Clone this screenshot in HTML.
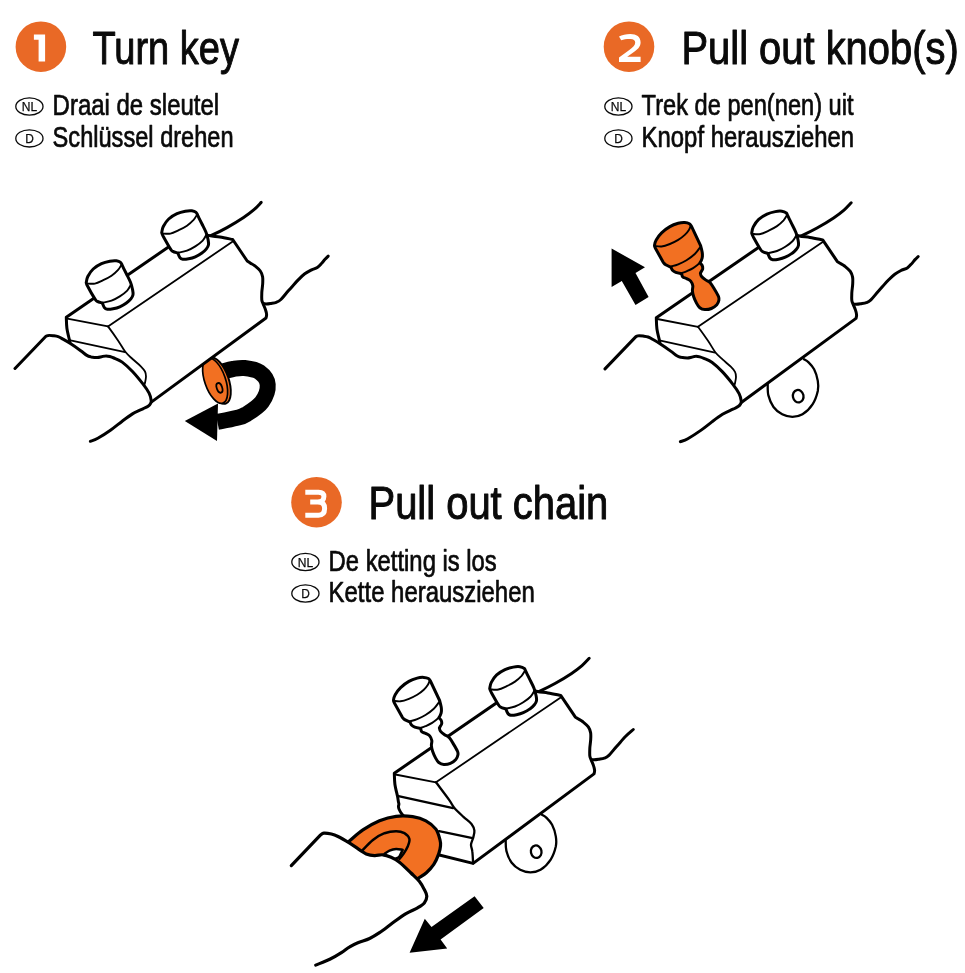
<!DOCTYPE html>
<html>
<head>
<meta charset="utf-8">
<style>
html,body{margin:0;padding:0;background:#fff;}
body{width:965px;height:973px;overflow:hidden;font-family:"Liberation Sans",sans-serif;}
svg{display:block;position:absolute;left:0;top:0;}
.tx{opacity:.999;}
.t{font-family:"Liberation Sans",sans-serif;fill:#0a0a0a;stroke:#0a0a0a;stroke-linejoin:round;}
.t1{font-size:46.5px;stroke-width:1;}
.t2{font-size:28.6px;stroke-width:.7;}
.t3{font-size:13px;stroke-width:.25;}
.ov{fill:none;stroke:#0a0a0a;stroke-width:1.3;}
.k{fill:none;stroke:#000;stroke-width:3;stroke-linecap:round;stroke-linejoin:round;}
.n{fill:none;stroke:#000;stroke-width:1.8;stroke-linecap:round;stroke-linejoin:round;}
.m{fill:none;stroke:#000;stroke-width:1.9;stroke-linecap:round;stroke-linejoin:round;}
.m2{fill:none;stroke:#000;stroke-width:2.3;stroke-linecap:round;stroke-linejoin:round;}
.k3{fill:none;stroke:#000;stroke-width:3.2;stroke-linecap:round;stroke-linejoin:round;}
.m3{fill:none;stroke:#000;stroke-width:2.5;stroke-linecap:round;stroke-linejoin:round;}
.w{fill:#fff;}
.o{fill:#f27022;}
.c{fill:#e96926;}
</style>
</head>
<body>
<svg width="965" height="973" viewBox="0 0 965 973">
<rect width="965" height="973" fill="#fff"/>
<g class="tx">
<circle class="c" cx="40.9" cy="46.7" r="25.3"/>
<g transform="translate(0 0)"><path d="M33.9 34.6H45.1V61.5H38.6V39.8H33.9Z" fill="#fff"/></g>
<text class="t t1" x="92.5" y="63.8" textLength="146.5" lengthAdjust="spacingAndGlyphs">Turn key</text>
<ellipse class="ov" cx="29.4" cy="106.5" rx="13.6" ry="8.6"/>
<text class="t t3" x="21.8" y="111.1" textLength="15.4" lengthAdjust="spacingAndGlyphs">NL</text>
<ellipse class="ov" cx="29.4" cy="138.4" rx="13.6" ry="8.6"/>
<text class="t t3" x="25.2" y="143.2" textLength="8.6" lengthAdjust="spacingAndGlyphs">D</text>
<text class="t t2" x="52.6" y="115.3" textLength="166.5" lengthAdjust="spacingAndGlyphs">Draai de sleutel</text>
<text class="t t2" x="52.6" y="147.3" textLength="181" lengthAdjust="spacingAndGlyphs">Schl&#252;ssel drehen</text>
<circle class="c" cx="629" cy="46.7" r="25.3"/>
<g transform="translate(589 0)"><path d="M30 36.4L32.2 40.3C35 39.2 38 38.9 41.5 39C44.5 39.1 46.2 40.2 46.2 42.6C46.2 45.5 44 47.5 40.3 50L30 57.5V61.9H51.6V56.8H38.2L43.5 53C48.5 49.5 51.6 46.8 51.6 42.4C51.6 36.6 47.5 33.9 41.3 33.9C37 33.9 33 34.8 30 36.4Z" fill="#fff"/></g>
<text class="t t1" x="681.5" y="63.8" textLength="277.2" lengthAdjust="spacingAndGlyphs">Pull out knob(s)</text>
<ellipse class="ov" cx="618.4" cy="106.5" rx="13.6" ry="8.6"/>
<text class="t t3" x="610.8" y="111.1" textLength="15.4" lengthAdjust="spacingAndGlyphs">NL</text>
<ellipse class="ov" cx="618.4" cy="138.4" rx="13.6" ry="8.6"/>
<text class="t t3" x="614.2" y="143.2" textLength="8.6" lengthAdjust="spacingAndGlyphs">D</text>
<text class="t t2" x="641.6" y="115.3" textLength="212" lengthAdjust="spacingAndGlyphs">Trek de pen(nen) uit</text>
<text class="t t2" x="641.6" y="147.3" textLength="212.5" lengthAdjust="spacingAndGlyphs">Knopf herausziehen</text>
<circle class="c" cx="316.5" cy="502.2" r="25.3"/>
<g transform="translate(276 455.5)"><g fill="none" stroke="#fff" stroke-width="5"><path d="M29.3 36.7H42.5C46.3 36.7 47.9 38.6 47.9 41C47.9 44.3 45.5 46.4 42.5 46.4H34.2"/><path d="M42.5 46.4C46.5 46.4 48.6 48.8 48.6 53C48.6 57.6 46.2 59.7 42.5 59.7H29.3"/></g></g>
<text class="t t1" x="368.5" y="519.2" textLength="239.8" lengthAdjust="spacingAndGlyphs">Pull out chain</text>
<ellipse class="ov" cx="305.4" cy="562" rx="13.6" ry="8.6"/>
<text class="t t3" x="297.8" y="566.6" textLength="15.4" lengthAdjust="spacingAndGlyphs">NL</text>
<ellipse class="ov" cx="305.4" cy="593.5" rx="13.6" ry="8.6"/>
<text class="t t3" x="301.2" y="598.3" textLength="8.6" lengthAdjust="spacingAndGlyphs">D</text>
<text class="t t2" x="328.6" y="570.8" textLength="168.2" lengthAdjust="spacingAndGlyphs">De ketting is los</text>
<text class="t t2" x="328.6" y="602.4" textLength="206.2" lengthAdjust="spacingAndGlyphs">Kette herausziehen</text>
</g>
<g transform="translate(0 0)">
<path class="k" d="M205 238C206.2 237.5 208.7 236.6 212.4 234.9C216.1 233.2 221.8 230.5 227 227.6C232.2 224.7 239.1 220.5 243.6 217.5C248.1 214.5 251.1 212.2 254 209.7C256.9 207.2 260 203.6 261.2 202.4"/>
<path class="k" d="M262 303.3C262.7 303.4 264.6 303.9 266 303.9C267.4 303.9 268.9 303.7 270.6 303.4C272.3 303.1 274.6 302.9 276.3 302.3C278 301.7 278.8 301.5 280.9 299.5C283 297.5 285.9 293.5 288.8 290.3C291.7 287.1 295.3 282.9 298 280.1C300.7 277.4 302.5 275.5 304.8 273.8C307.1 272.1 309.5 270.9 311.6 269.8C313.7 268.8 315.6 268.6 317.3 267.5C319 266.4 320.6 264.4 321.9 263C323.2 261.6 324.2 260.1 325.3 259C326.4 257.9 327.7 256.6 328.2 256.1"/>
<path d="M222.9 371.3C224.6 370.9 229.4 369.6 233 369C236.6 368.4 240.1 367.5 244.5 368C248.9 368.5 255.5 369.3 259.4 372.1C263.3 374.9 267.3 379.6 267.7 384.6C268.1 389.6 265.5 397 261.9 402C258.3 407 250.4 411.7 246.1 414.4C241.8 417.1 241 416.9 236.2 418.1C231.4 419.4 220.5 421.3 217.4 421.9" fill="none" stroke="#000" stroke-width="16"/>
<path d="M184.8 421L218 403.6L217 441Z" fill="#000"/>
<g transform="rotate(71 215.4 380.7)"><ellipse cx="216.2" cy="378.3" rx="24.2" ry="10.8" class="o" stroke="#000" stroke-width="1.9"/><ellipse cx="215.2" cy="380.9" rx="23.8" ry="10.4" class="o" stroke="#000" stroke-width="1.7"/><ellipse cx="223.5" cy="379.2" rx="5" ry="2.7" class="o" stroke="#000" stroke-width="1.8"/></g>
<path class="k w" d="M66.3 317.3L199 226C200.1 227.4 202.3 232.7 205.8 234.5C209.3 236.3 215.4 236.2 219.9 237C224.4 237.8 230.6 239.1 232.7 239.5L247.2 261C247.8 261.4 249.3 262.4 250.5 263.2C251.7 264 253 264.3 254.6 265.6C256.2 266.9 259 269.1 260.3 271C261.6 272.9 262.2 274.6 262.6 276.7C263 278.8 262.8 280.9 262.7 283.5C262.6 286.1 261.9 289.9 261.8 292.6C261.7 295.4 261.6 298.1 261.8 300C262 301.9 262.6 302.4 263.2 304C263.8 305.6 264.9 307.9 265.5 309.7C266.1 311.4 266.5 313.1 266.6 314.5C266.7 315.9 266.1 317.4 266 318L146.5 405.6L110.3 398.8C104.3 392.1 80.8 367.1 74.2 358.5C67.6 349.9 71.6 350.5 70.8 347.5C70 344.5 70.2 343.5 69.5 340.3C68.8 337.1 67.4 332.1 66.9 328.3C66.4 324.5 66.4 319.1 66.3 317.3Z"/>
<path class="n" d="M108 326.4L232.7 241.5"/>
<path class="n" d="M67.3 318.6L108 326.4"/>
<path class="n" d="M108 326.4C109.7 328.7 115.1 336.2 118 340.4C120.9 344.6 122.9 348.7 125.3 351.8C127.7 354.9 129.9 356.6 132.5 359C135.1 361.4 138.7 364.2 140.8 366.3C142.9 368.4 144.1 369.8 145 371.5C145.9 373.2 146 374.7 146 376.6C146 378.5 145.3 381.4 145 382.8C144.7 384.2 144.3 384.6 144.2 385"/>
<path class="n" d="M70.5 340.3L125.1 352.2"/>
<path class="k w" d="M86.2 282.7C86.5 281.7 86.6 278.8 87.8 276.5C89 274.2 90.9 271.1 93.2 269C95.5 266.9 98.7 265 101.5 263.7C104.3 262.4 107.3 261.7 109.8 261.2C112.3 260.7 114.6 260.6 116.4 260.8C118.2 261 119.6 261.6 120.6 262.4C121.6 263.1 121.9 264.8 122.2 265.3C122.9 266.8 125.1 271.2 126.5 274C127.9 276.8 129.5 279.7 130.5 282.3C131.5 284.9 132.2 287.7 132.6 289.8C133 291.9 133.3 293.3 133 294.8C132.7 296.3 132 297.5 130.9 298.9C129.8 300.3 128.2 301.7 126.4 303C124.6 304.3 122 305.8 119.8 306.8C117.6 307.8 115.2 308.4 113.1 308.8C111 309.2 108.8 309.5 107.3 309.3C105.8 309.1 105.2 308.7 104.4 307.6C103.6 306.6 102.7 303.8 102.3 303C101.5 302.7 98.6 302.1 97.4 301.4C96.2 300.7 96.5 301.4 94.9 298.9C93.3 296.4 89.2 289.2 87.8 286.5C86.3 283.8 86.5 283.3 86.2 282.7Z"/>
<path class="m" d="M86.6 283.5C88 283.5 92.1 284.2 94.9 283.6C97.7 283.1 100.4 281.5 103.2 280.2C106 278.9 109 277.4 111.5 275.7C114 274 116.4 271.8 118.1 269.9C119.8 268 121 265.5 121.6 264.6"/>
<path class="m" d="M102.3 302.8C103.8 302.4 108.6 301.7 111.5 300.6C114.4 299.5 117.2 298.1 119.8 296.4C122.4 294.7 125.3 292.6 127.2 290.6C129.1 288.6 130.5 285.3 131.2 284.2"/>
<path class="k w" d="M161.7 232.7C162 231.7 162.1 228.8 163.3 226.5C164.5 224.2 166.4 221.1 168.7 219C171 216.9 174.2 215 177 213.7C179.8 212.4 182.8 211.7 185.3 211.2C187.8 210.7 190.1 210.6 191.9 210.8C193.7 211 195.1 211.6 196.1 212.4C197.1 213.1 197.4 214.8 197.7 215.3C198.4 216.8 200.6 221.2 202 224C203.4 226.8 205 229.7 206 232.3C207 234.9 207.7 237.7 208.1 239.8C208.5 241.9 208.8 243.3 208.5 244.8C208.2 246.3 207.5 247.5 206.4 248.9C205.3 250.3 203.8 251.7 201.9 253C200.1 254.3 197.5 255.8 195.3 256.8C193.1 257.8 190.7 258.4 188.6 258.8C186.5 259.2 184.2 259.5 182.8 259.3C181.4 259.1 180.7 258.7 179.9 257.6C179.1 256.6 178.2 253.8 177.8 253C177 252.7 174.1 252.1 172.9 251.4C171.7 250.7 172 251.4 170.4 248.9C168.8 246.4 164.8 239.2 163.3 236.5C161.9 233.8 162 233.3 161.7 232.7Z"/>
<path class="m" d="M162.1 233.5C163.5 233.5 167.6 234.2 170.4 233.6C173.2 233.1 175.9 231.5 178.7 230.2C181.5 228.9 184.5 227.4 187 225.7C189.5 224 191.9 221.7 193.6 219.9C195.3 218 196.5 215.5 197.1 214.6"/>
<path class="m" d="M177.8 252.8C179.3 252.4 184.1 251.7 187 250.6C189.9 249.5 192.7 248.1 195.3 246.4C197.9 244.7 200.8 242.6 202.7 240.6C204.6 238.6 206 235.3 206.7 234.2"/>
<path class="k w" d="M15 368.5L45.2 337C45.4 336.8 46 336.3 46.5 336C47 335.7 47.4 335.4 48.5 335.4C49.6 335.3 51.5 335.5 53.1 335.7C54.7 335.9 56.5 336 58.1 336.6C59.8 337.2 61 338 63 339.1C65 340.2 67.5 341.6 70.4 343.5C73.4 345.4 78 348.7 80.7 350.7C83.5 352.7 85.2 354.4 86.9 355.4C88.6 356.4 89.4 356.5 91.1 356.9C92.8 357.2 95.6 357.5 97.3 357.5C99 357.5 100.1 357.1 101.5 356.8C102.9 356.5 104.2 355.9 105.6 355.9C107 355.8 108.4 356.1 109.8 356.5C111.2 356.9 111.8 357.1 113.9 358C116 358.9 119.1 359.9 122.2 362.1C125.3 364.4 129.1 367.9 132.5 371.5C135.9 375.1 140.1 380.3 142.9 383.9C145.7 387.5 147.7 390.4 149.1 393.2C150.5 396 151 398.8 151.2 400.5C151.4 402.2 151 402.7 150.5 403.6C150 404.6 149.4 405.3 148.1 406.2C146.8 407.1 145.5 407.5 142.9 408.8C140.3 410.1 135.9 411.8 132.5 413.9C129.1 416 125.8 418.5 122.2 421.2C118.6 423.9 114.9 427.1 110.8 430C106.7 432.9 101.2 436.4 97.8 438.3C94.4 440.2 91.6 440.8 90.4 441.3"/>
</g>
<g transform="translate(590 0.4)">
<path class="k" d="M205 238C206.2 237.5 208.7 236.6 212.4 234.9C216.1 233.2 221.8 230.5 227 227.6C232.2 224.7 239.1 220.5 243.6 217.5C248.1 214.5 251.1 212.2 254 209.7C256.9 207.2 260 203.6 261.2 202.4"/>
<path class="k" d="M262 303.3C262.7 303.4 264.6 303.9 266 303.9C267.4 303.9 268.9 303.7 270.6 303.4C272.3 303.1 274.6 302.9 276.3 302.3C278 301.7 278.8 301.5 280.9 299.5C283 297.5 285.9 293.5 288.8 290.3C291.7 287.1 295.3 282.9 298 280.1C300.7 277.4 302.5 275.5 304.8 273.8C307.1 272.1 309.5 270.9 311.6 269.8C313.7 268.8 315.6 268.6 317.3 267.5C319 266.4 320.6 264.4 321.9 263C323.2 261.6 324.2 260.1 325.3 259C326.4 257.9 327.7 256.6 328.2 256.1"/>
<path class="m2 w" d="M177.7 383.4C177.8 385.3 177.4 391.1 178.4 395C179.4 398.9 181.2 403.5 183.5 406.6C185.8 409.8 189.1 412.3 192.2 413.9C195.4 415.6 199 416.5 202.4 416.5C205.8 416.5 209.1 416 212.5 413.9C215.9 411.8 220.2 407.6 222.7 403.7C225.3 399.8 226.9 394.6 227.8 390.7C228.6 386.8 228.4 384.1 227.8 380.5C227.2 376.9 225.7 372 224.1 368.9C222.5 365.8 220 363.4 218.3 361.7C216.6 360 214.7 359.3 214 358.8"/>
<ellipse class="m2" cx="208.2" cy="395.8" rx="5.3" ry="6.3" transform="rotate(-12 208.2 395.8)"/>
<path class="k w" d="M66.3 317.3L199 226C200.1 227.4 202.3 232.7 205.8 234.5C209.3 236.3 215.4 236.2 219.9 237C224.4 237.8 230.6 239.1 232.7 239.5L247.2 261C247.8 261.4 249.3 262.4 250.5 263.2C251.7 264 253 264.3 254.6 265.6C256.2 266.9 259 269.1 260.3 271C261.6 272.9 262.2 274.6 262.6 276.7C263 278.8 262.8 280.9 262.7 283.5C262.6 286.1 261.9 289.9 261.8 292.6C261.7 295.4 261.6 298.1 261.8 300C262 301.9 262.6 302.4 263.2 304C263.8 305.6 264.9 307.9 265.5 309.7C266.1 311.4 266.5 313.1 266.6 314.5C266.7 315.9 266.1 317.4 266 318L146.5 405.6L110.3 398.8C104.3 392.1 80.8 367.1 74.2 358.5C67.6 349.9 71.6 350.5 70.8 347.5C70 344.5 70.2 343.5 69.5 340.3C68.8 337.1 67.4 332.1 66.9 328.3C66.4 324.5 66.4 319.1 66.3 317.3Z"/>
<path class="n" d="M108 326.4L232.7 241.5"/>
<path class="n" d="M67.3 318.6L108 326.4"/>
<path class="n" d="M108 326.4C109.7 328.7 115.1 336.2 118 340.4C120.9 344.6 122.9 348.7 125.3 351.8C127.7 354.9 129.9 356.6 132.5 359C135.1 361.4 138.7 364.2 140.8 366.3C142.9 368.4 144.1 369.8 145 371.5C145.9 373.2 146 374.7 146 376.6C146 378.5 145.3 381.4 145 382.8C144.7 384.2 144.3 384.6 144.2 385"/>
<path class="n" d="M70.5 340.3L125.1 352.2"/>
<path class="k o" d="M65.4 247.8C65.2 247.3 64.4 246.3 64.5 244.9C64.6 243.5 65 241.6 66.2 239.5C67.4 237.4 69.3 234.6 71.6 232.4C73.9 230.2 77.1 227.8 79.9 226.2C82.7 224.6 85.7 223.6 88.2 222.9C90.7 222.2 92.9 222.1 94.8 222.2C96.7 222.3 98.3 222.7 99.4 223.3C100.5 223.9 101.1 225.4 101.4 225.8L110.6 245.3C110.9 246.4 111.9 250.1 112.2 251.9C112.5 253.7 112.5 254.8 112.4 256.1C112.3 257.4 111.8 258.8 111.4 259.8C111 260.9 110.1 262 109.9 262.4C110.3 262.9 111.7 264.1 112.2 265.1C112.7 266.1 112.8 267.5 112.7 268.4C112.6 269.3 112 269.9 111.6 270.6C111.2 271.3 110.6 272.4 110.4 272.8C110.6 273.3 110.5 274.8 111.4 275.9C112.3 277 114.1 278.4 115.6 279.5C117.1 280.6 118.7 280.8 120.2 282.4C121.7 284.1 123.4 287.1 124.8 289.4C126.2 291.7 127.8 294.4 128.5 296.1C129.2 297.8 129.2 298.4 128.9 299.8C128.6 301.2 128 303 126.8 304.4C125.5 305.8 123.4 307.3 121.4 308.1C119.4 308.9 116.7 309.3 114.8 309.2C112.9 309.1 111.2 308.4 109.8 307.3C108.4 306.2 107.5 304.6 106.5 302.7C105.5 300.8 104.3 298.2 103.6 296.1C102.9 294 102.5 292.1 102.4 290.3C102.3 288.5 103.1 286.9 102.8 285.3C102.5 283.7 101.7 281.9 100.7 280.7C99.7 279.5 97.9 278.9 96.6 278.2C95.3 277.5 93.6 277.4 92.8 276.6C92 275.8 91.8 273.9 91.6 273.3C90.6 273.1 87.3 272.6 85.8 272C84.3 271.4 83.3 270.8 82.5 269.9C81.7 269 81.2 267.3 81 266.8C80.1 266.4 77 265.2 75.7 264.4C74.4 263.6 73.6 262.3 73.2 261.9L65.4 247.8Z"/>
<path class="m" d="M64.9 245.6C66 245.7 69.1 246.4 71.6 246.1C74.1 245.8 77.1 244.7 79.9 243.6C82.7 242.5 85.7 241 88.2 239.5C90.7 238 93 236.2 94.8 234.5C96.6 232.8 97.9 231.1 98.9 229.5C99.9 227.9 100.5 225.9 100.8 225.2"/>
<path class="m" d="M80.7 266.2C82 265.8 85.6 265 88.2 263.9C90.8 262.8 93.7 261.5 96.5 259.8C99.3 258.1 102.5 255.8 104.8 253.6C107.1 251.4 109.4 247.8 110.3 246.6"/>
<path class="m" d="M91.2 272.8C92.1 272.5 94.5 271.9 96.5 271C98.5 270.1 101 269 103.1 267.7C105.2 266.4 107.7 264.3 108.9 263.4C110.1 262.5 110 262.3 110.2 262.1"/>
<path class="k w" d="M161.7 232.7C162 231.7 162.1 228.8 163.3 226.5C164.5 224.2 166.4 221.1 168.7 219C171 216.9 174.2 215 177 213.7C179.8 212.4 182.8 211.7 185.3 211.2C187.8 210.7 190.1 210.6 191.9 210.8C193.7 211 195.1 211.6 196.1 212.4C197.1 213.1 197.4 214.8 197.7 215.3C198.4 216.8 200.6 221.2 202 224C203.4 226.8 205 229.7 206 232.3C207 234.9 207.7 237.7 208.1 239.8C208.5 241.9 208.8 243.3 208.5 244.8C208.2 246.3 207.5 247.5 206.4 248.9C205.3 250.3 203.8 251.7 201.9 253C200.1 254.3 197.5 255.8 195.3 256.8C193.1 257.8 190.7 258.4 188.6 258.8C186.5 259.2 184.2 259.5 182.8 259.3C181.4 259.1 180.7 258.7 179.9 257.6C179.1 256.6 178.2 253.8 177.8 253C177 252.7 174.1 252.1 172.9 251.4C171.7 250.7 172 251.4 170.4 248.9C168.8 246.4 164.8 239.2 163.3 236.5C161.9 233.8 162 233.3 161.7 232.7Z"/>
<path class="m" d="M162.1 233.5C163.5 233.5 167.6 234.2 170.4 233.6C173.2 233.1 175.9 231.5 178.7 230.2C181.5 228.9 184.5 227.4 187 225.7C189.5 224 191.9 221.7 193.6 219.9C195.3 218 196.5 215.5 197.1 214.6"/>
<path class="m" d="M177.8 252.8C179.3 252.4 184.1 251.7 187 250.6C189.9 249.5 192.7 248.1 195.3 246.4C197.9 244.7 200.8 242.6 202.7 240.6C204.6 238.6 206 235.3 206.7 234.2"/>
<path class="k w" d="M15 368.5L45.2 337C45.4 336.8 46 336.3 46.5 336C47 335.7 47.4 335.4 48.5 335.4C49.6 335.3 51.5 335.5 53.1 335.7C54.7 335.9 56.5 336 58.1 336.6C59.8 337.2 61 338 63 339.1C65 340.2 67.5 341.6 70.4 343.5C73.4 345.4 78 348.7 80.7 350.7C83.5 352.7 85.2 354.4 86.9 355.4C88.6 356.4 89.4 356.5 91.1 356.9C92.8 357.2 95.6 357.5 97.3 357.5C99 357.5 100.1 357.1 101.5 356.8C102.9 356.5 104.2 355.9 105.6 355.9C107 355.8 108.4 356.1 109.8 356.5C111.2 356.9 111.8 357.1 113.9 358C116 358.9 119.1 359.9 122.2 362.1C125.3 364.4 129.1 367.9 132.5 371.5C135.9 375.1 140.1 380.3 142.9 383.9C145.7 387.5 147.7 390.4 149.1 393.2C150.5 396 151 398.8 151.2 400.5C151.4 402.2 151 402.7 150.5 403.6C150 404.6 149.4 405.3 148.1 406.2C146.8 407.1 145.5 407.5 142.9 408.8C140.3 410.1 135.9 411.8 132.5 413.9C129.1 416 125.8 418.5 122.2 421.2C118.6 423.9 114.9 427.1 110.8 430C106.7 432.9 101.2 436.4 97.8 438.3C94.4 440.2 91.6 440.8 90.4 441.3"/>
<path d="M21.6 248 L55 266.9 L45.5 272.7 L58.6 296.6 L45.5 304.6 L31.8 280.7 L21.6 286.5 Z" fill="#000"/>
</g>
<g transform="translate(328 455.9)">
<path class="k" d="M205 238C206.2 237.5 208.7 236.6 212.4 234.9C216.1 233.2 221.8 230.5 227 227.6C232.2 224.7 239.1 220.5 243.6 217.5C248.1 214.5 251.1 212.2 254 209.7C256.9 207.2 260 203.6 261.2 202.4"/>
<path class="k" d="M262 303.3C262.7 303.4 264.6 303.9 266 303.9C267.4 303.9 268.9 303.7 270.6 303.4C272.3 303.1 274.6 302.9 276.3 302.3C278 301.7 278.8 301.5 280.9 299.5C283 297.5 285.9 293.5 288.8 290.3C291.7 287.1 295.2 282.9 298 280.1C300.8 277.3 304.1 274.7 305.3 273.6"/>
<path class="m2 w" d="M177.7 383.4C177.8 385.3 177.4 391.1 178.4 395C179.4 398.9 181.2 403.5 183.5 406.6C185.8 409.8 189.1 412.3 192.2 413.9C195.4 415.6 199 416.5 202.4 416.5C205.8 416.5 209.1 416 212.5 413.9C215.9 411.8 220.2 407.6 222.7 403.7C225.3 399.8 226.9 394.6 227.8 390.7C228.6 386.8 228.4 384.1 227.8 380.5C227.2 376.9 225.7 372 224.1 368.9C222.5 365.8 220 363.4 218.3 361.7C216.6 360 214.7 359.3 214 358.8"/>
<ellipse class="m2" cx="208.2" cy="395.8" rx="5.3" ry="6.3" transform="rotate(-12 208.2 395.8)"/>
<path class="k w" d="M66.3 317.3L199 226C200.1 227.4 202.3 232.7 205.8 234.5C209.3 236.3 215.4 236.2 219.9 237C224.4 237.8 230.6 239.1 232.7 239.5L247.2 261C247.8 261.4 249.3 262.4 250.5 263.2C251.7 264 253 264.3 254.6 265.6C256.2 266.9 259 269.1 260.3 271C261.6 272.9 262.2 274.6 262.6 276.7C263 278.8 262.8 280.9 262.7 283.5C262.6 286.1 261.9 289.9 261.8 292.6C261.7 295.4 261.6 298.1 261.8 300C262 301.9 262.6 302.4 263.2 304C263.8 305.6 264.9 307.9 265.5 309.7C266.1 311.4 266.5 313.1 266.6 314.5C266.7 315.9 266.1 317.4 266 318L145.1 407.5L110.3 398.8C104.3 392.1 80.8 367.1 74.2 358.5C67.6 349.9 71.6 350.5 70.8 347.5C70 344.5 70.2 343.5 69.5 340.3C68.8 337.1 67.4 332.1 66.9 328.3C66.4 324.5 66.4 319.1 66.3 317.3Z"/>
<path class="n" d="M108 326.4L232.7 241.5"/>
<path class="n" d="M67.3 318.6L108 326.4"/>
<path class="m2" d="M108 326.4C110.2 329.4 118.3 340 121.3 344.2C124.3 348.4 123.7 348.9 126 351.6C128.3 354.4 132.3 358 135.2 360.7C138.1 363.5 141.6 365.8 143.5 368.1C145.4 370.5 146.1 372.5 146.4 374.8C146.7 377.2 145.3 381 145.1 382.2C144.8 383.3 143.1 386.7 143 388.9C142.9 391.1 144 392.4 144.3 395.5C144.7 398.6 145 405.5 145.1 407.5"/>
<path class="m2" d="M70.5 340.3L125.1 352.2"/>
<path class="m2" d="M111.1 375.2L144.6 382.2"/>
<g transform="translate(1 -0.7)"><path class="k w" d="M65.4 247.8C65.2 247.3 64.4 246.3 64.5 244.9C64.6 243.5 65 241.6 66.2 239.5C67.4 237.4 69.3 234.6 71.6 232.4C73.9 230.2 77.1 227.8 79.9 226.2C82.7 224.6 85.7 223.6 88.2 222.9C90.7 222.2 92.9 222.1 94.8 222.2C96.7 222.3 98.3 222.7 99.4 223.3C100.5 223.9 101.1 225.4 101.4 225.8L110.6 245.3C110.9 246.4 111.9 250.1 112.2 251.9C112.5 253.7 112.5 254.8 112.4 256.1C112.3 257.4 111.8 258.8 111.4 259.8C111 260.9 110.1 262 109.9 262.4C110.3 262.9 111.7 264.1 112.2 265.1C112.7 266.1 112.8 267.5 112.7 268.4C112.6 269.3 112 269.9 111.6 270.6C111.2 271.3 110.6 272.4 110.4 272.8C110.6 273.3 110.5 274.8 111.4 275.9C112.3 277 114.1 278.4 115.6 279.5C117.1 280.6 118.7 280.8 120.2 282.4C121.7 284.1 123.4 287.1 124.8 289.4C126.2 291.7 127.8 294.4 128.5 296.1C129.2 297.8 129.2 298.4 128.9 299.8C128.6 301.2 128 303 126.8 304.4C125.5 305.8 123.4 307.3 121.4 308.1C119.4 308.9 116.7 309.3 114.8 309.2C112.9 309.1 111.2 308.4 109.8 307.3C108.4 306.2 107.5 304.6 106.5 302.7C105.5 300.8 104.3 298.2 103.6 296.1C102.9 294 102.5 292.1 102.4 290.3C102.3 288.5 103.1 286.9 102.8 285.3C102.5 283.7 101.7 281.9 100.7 280.7C99.7 279.5 97.9 278.9 96.6 278.2C95.3 277.5 93.6 277.4 92.8 276.6C92 275.8 91.8 273.9 91.6 273.3C90.6 273.1 87.3 272.6 85.8 272C84.3 271.4 83.3 270.8 82.5 269.9C81.7 269 81.2 267.3 81 266.8C80.1 266.4 77 265.2 75.7 264.4C74.4 263.6 73.6 262.3 73.2 261.9L65.4 247.8Z"/><path class="m" d="M64.9 245.6C66 245.7 69.1 246.4 71.6 246.1C74.1 245.8 77.1 244.7 79.9 243.6C82.7 242.5 85.7 241 88.2 239.5C90.7 238 93 236.2 94.8 234.5C96.6 232.8 97.9 231.1 98.9 229.5C99.9 227.9 100.5 225.9 100.8 225.2"/><path class="m" d="M80.7 266.2C82 265.8 85.6 265 88.2 263.9C90.8 262.8 93.7 261.5 96.5 259.8C99.3 258.1 102.5 255.8 104.8 253.6C107.1 251.4 109.4 247.8 110.3 246.6"/><path class="m" d="M91.2 272.8C92.1 272.5 94.5 271.9 96.5 271C98.5 270.1 101 269 103.1 267.7C105.2 266.4 107.7 264.3 108.9 263.4C110.1 262.5 110 262.3 110.2 262.1"/></g>
<path class="k w" d="M161.7 232.7C162 231.7 162.1 228.8 163.3 226.5C164.5 224.2 166.4 221.1 168.7 219C171 216.9 174.2 215 177 213.7C179.8 212.4 182.8 211.7 185.3 211.2C187.8 210.7 190.1 210.6 191.9 210.8C193.7 211 195.1 211.6 196.1 212.4C197.1 213.1 197.4 214.8 197.7 215.3C198.4 216.8 200.6 221.2 202 224C203.4 226.8 205 229.7 206 232.3C207 234.9 207.7 237.7 208.1 239.8C208.5 241.9 208.8 243.3 208.5 244.8C208.2 246.3 207.5 247.5 206.4 248.9C205.3 250.3 203.8 251.7 201.9 253C200.1 254.3 197.5 255.8 195.3 256.8C193.1 257.8 190.7 258.4 188.6 258.8C186.5 259.2 184.2 259.5 182.8 259.3C181.4 259.1 180.7 258.7 179.9 257.6C179.1 256.6 178.2 253.8 177.8 253C177 252.7 174.1 252.1 172.9 251.4C171.7 250.7 172 251.4 170.4 248.9C168.8 246.4 164.8 239.2 163.3 236.5C161.9 233.8 162 233.3 161.7 232.7Z"/>
<path class="m" d="M162.1 233.5C163.5 233.5 167.6 234.2 170.4 233.6C173.2 233.1 175.9 231.5 178.7 230.2C181.5 228.9 184.5 227.4 187 225.7C189.5 224 191.9 221.7 193.6 219.9C195.3 218 196.5 215.5 197.1 214.6"/>
<path class="m" d="M177.8 252.8C179.3 252.4 184.1 251.7 187 250.6C189.9 249.5 192.7 248.1 195.3 246.4C197.9 244.7 200.8 242.6 202.7 240.6C204.6 238.6 206 235.3 206.7 234.2"/>
<path class="k3 o" d="M20.8 385.6C23.2 383.7 29.8 377.4 34.9 374C40 370.6 46 367.2 51.5 364.9C57 362.6 62.6 361.1 68.1 360.4C73.6 359.7 79.7 360 84.7 360.7C89.7 361.5 94 362.8 97.9 364.9C101.8 367 105.5 370 107.9 373.2C110.2 376.4 111.2 381.2 112 384C112.8 386.8 112.7 387.8 112.5 390.1C112.3 392.4 111.9 394.6 110.8 397.7C109.7 400.8 107.9 405.3 105.8 408.5C103.7 411.7 101.1 414.4 98.4 416.8C95.7 419.2 92 421 89.6 422.9C87.2 424.8 87.8 427.9 84 428.1C80.2 428.3 74 427.8 67 424.1C60 420.4 49.2 411.8 42 406.1C34.8 400.4 27 392.8 24 390.1"/>
<path class="m3" d="M34.1 394.7C35.9 392.9 41.2 386.9 44.9 384C48.6 381.1 52.6 378.8 56.5 377.3C60.4 375.9 64.8 375.3 68.1 375.3C71.4 375.3 74.2 376 76.4 377.3C78.6 378.6 80.8 380.9 81.4 383.1C81.9 385.3 80.7 388.1 79.7 390.6C78.7 393.1 76.9 395.9 75.5 398C74.1 400.1 72.1 402.2 71.4 403"/>
<path class="m3 w" d="M56.5 398C57.3 397.4 59.6 395.5 61.5 394.7C63.4 393.9 65.9 393.2 68.1 393.1C70.3 393 73.6 393.8 74.7 393.9C74.1 395 72.5 399.1 71.4 400.5C70.3 401.9 68.7 402.1 68.1 402.4"/>
<path class="k3 w" d="M-36.7 409.7L-7.4 379C-6.8 378.7 -5.9 377.5 -4.1 377.3C-2.3 377.2 1 377.6 3.4 378.1C5.7 378.7 6.9 379.1 10 380.6C13.1 382.1 18.1 385.1 21.7 387.3C25.3 389.5 28.9 392.1 31.6 393.9C34.4 395.7 35.7 397 38.2 398C40.7 399 43.7 399.6 46.5 399.7C49.3 399.9 52 398.6 54.8 398.9C57.6 399.2 60.3 400.2 63.1 401.4C65.9 402.6 68.1 403.7 71.4 406.3C74.7 408.9 79.7 413.9 83 417.1C86.3 420.3 89.1 422.6 91.3 425.4C93.5 428.2 95.1 431.2 96.3 433.7C97.6 436.2 98.8 438.1 98.8 440.3C98.8 442.5 97.8 445.1 96.3 447C94.8 448.9 92.7 450.1 89.6 451.9C86.6 453.7 82.1 455.2 78 457.7C73.9 460.2 69.2 463.7 64.8 466.9C60.4 470.1 55.4 474.2 51.5 476.8C47.6 479.4 45.2 480.9 41.6 482.6C38 484.3 33.2 485.4 29.9 486.8C26.6 488.2 24.4 489.2 21.7 490.9C18.9 492.5 16.7 494.6 13.4 496.7C10.1 498.8 6.1 501.3 1.8 503.4C-2.5 505.5 -10 508.2 -12.3 509.2"/>
<path d="M81.6 496.8 L96.8 462.8 L103.5 471.1 L146.6 440.4 L155.7 452 L112.6 483.6 L119.2 492.7 Z" fill="#000"/>
</g>
</svg>
</body>
</html>
